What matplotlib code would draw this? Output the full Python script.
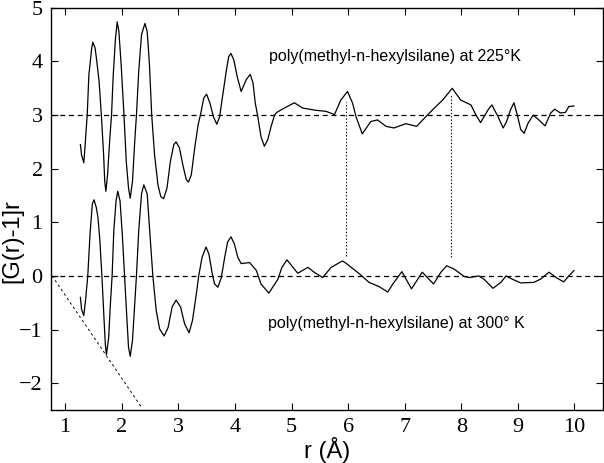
import matplotlib
matplotlib.use("Agg")
import matplotlib.pyplot as plt

# upper curve, 225 K (already shifted by +3)
r_225 = [1.27, 1.29, 1.33, 1.35, 1.39, 1.42, 1.47, 1.49, 1.53, 1.56, 1.60, 1.64, 1.68,
         1.70, 1.72, 1.75, 1.79, 1.82, 1.85, 1.89, 1.92, 1.95, 1.99, 2.04, 2.08, 2.12,
         2.15, 2.19, 2.23, 2.26, 2.30, 2.35, 2.41, 2.45, 2.49, 2.53, 2.58, 2.64, 2.69,
         2.74, 2.80, 2.86, 2.92, 2.96, 3.02, 3.08, 3.14, 3.18, 3.23, 3.29, 3.35, 3.39,
         3.45, 3.50, 3.56, 3.62, 3.68, 3.73, 3.79, 3.85, 3.89, 3.93, 3.98, 4.04, 4.11,
         4.20, 4.27, 4.32, 4.36, 4.40, 4.46, 4.52, 4.58, 4.64, 4.70, 4.74, 4.82, 5.05,
         5.20, 5.43, 5.61, 5.76, 5.87, 5.99, 6.08, 6.14, 6.25, 6.40, 6.52, 6.67, 6.81,
         7.02, 7.21, 7.40, 7.55, 7.67, 7.84, 7.99, 8.17, 8.26, 8.34, 8.48, 8.54, 8.64,
         8.74, 8.80, 8.87, 8.93, 8.99, 9.05, 9.11, 9.18, 9.27, 9.37, 9.48, 9.58, 9.65,
         9.75, 9.84, 9.90, 9.99]
g_225 = [2.45, 2.26, 2.11, 2.39, 3.00, 3.75, 4.25, 4.36, 4.25, 4.00, 3.63, 3.00, 2.26,
         1.76, 1.58, 1.89, 2.57, 3.00, 3.75, 4.43, 4.74, 4.56, 3.94, 3.00, 2.14, 1.64,
         1.45, 1.76, 2.51, 3.00, 3.81, 4.50, 4.71, 4.56, 3.94, 3.00, 2.26, 1.70, 1.48,
         1.44, 1.64, 2.14, 2.45, 2.50, 2.39, 2.07, 1.80, 1.75, 1.89, 2.39, 2.82, 3.00,
         3.32, 3.39, 3.22, 2.97, 2.83, 2.97, 3.41, 3.84, 4.09, 4.15, 4.03, 3.72, 3.44,
         3.66, 3.76, 3.60, 3.22, 3.00, 2.60, 2.42, 2.54, 2.79, 3.00, 3.05, 3.10, 3.23,
         3.13, 3.09, 3.07, 3.01, 3.28, 3.44, 3.22, 2.97, 2.65, 2.88, 2.91, 2.79, 2.76,
         2.84, 2.79, 3.00, 3.16, 3.28, 3.50, 3.28, 3.19, 3.00, 2.86, 3.11, 3.19, 2.99,
         2.76, 2.88, 3.10, 3.23, 3.00, 2.73, 2.66, 2.85, 3.00, 2.91, 2.80, 3.04, 3.11,
         3.04, 3.05, 3.16, 3.17]

# lower curve, 300 K
r_300 = [1.27, 1.29, 1.33, 1.36, 1.40, 1.44, 1.48, 1.51, 1.55, 1.58, 1.61, 1.65, 1.68,
         1.71, 1.73, 1.77, 1.80, 1.83, 1.86, 1.90, 1.93, 1.97, 2.01, 2.05, 2.09, 2.12,
         2.15, 2.19, 2.23, 2.26, 2.30, 2.35, 2.39, 2.45, 2.49, 2.55, 2.61, 2.67, 2.75,
         2.82, 2.89, 2.96, 3.04, 3.11, 3.19, 3.25, 3.31, 3.36, 3.42, 3.49, 3.54, 3.60,
         3.64, 3.70, 3.76, 3.82, 3.87, 3.93, 3.99, 4.05, 4.11, 4.26, 4.38, 4.46, 4.60,
         4.76, 4.83, 4.92, 5.11, 5.29, 5.40, 5.55, 5.70, 5.90, 5.96, 6.20, 6.37, 6.55,
         6.70, 6.79, 6.95, 7.12, 7.31, 7.51, 7.64, 7.74, 7.87, 8.05, 8.14, 8.31, 8.40,
         8.56, 8.70, 8.79, 8.90, 9.05, 9.28, 9.40, 9.55, 9.69, 9.81, 9.90, 9.99]
g_300 = [-0.40, -0.62, -0.74, -0.46, 0.00, 0.78, 1.34, 1.42, 1.28, 1.09, 0.72, 0.00, -0.65,
         -1.27, -1.47, -1.14, -0.52, 0.00, 0.84, 1.40, 1.58, 1.40, 0.78, 0.00, -0.77, -1.33,
         -1.50, -1.20, -0.52, 0.00, 0.84, 1.53, 1.70, 1.53, 0.91, 0.00, -0.65, -0.99, -1.12,
         -0.96, -0.58, -0.45, -0.58, -0.89, -1.06, -0.83, -0.40, 0.00, 0.35, 0.54, 0.41, 0.04,
         -0.15, -0.21, -0.03, 0.35, 0.63, 0.73, 0.60, 0.35, 0.23, 0.25, 0.10, -0.15, -0.32,
         -0.06, 0.16, 0.30, 0.05, 0.16, 0.07, -0.03, 0.16, 0.28, 0.24, 0.04, -0.12, -0.20,
         -0.30, -0.15, 0.08, -0.24, 0.07, -0.15, 0.07, 0.19, 0.13, -0.01, -0.03, 0.00, -0.06,
         -0.23, -0.12, 0.00, -0.06, -0.13, -0.12, -0.06, 0.07, -0.04, -0.11, 0.00, 0.10]

baselines = [0.0, 3.0]
density_line_r = [0.77, 2.35]
density_line_g = [0.0, -2.45]
peak_r = [5.97, 7.81]
peak_lo = [0.38, 0.36]
peak_hi = [3.25, 3.40]

x_ticks = list(range(1, 11))
y_ticks = list(range(-2, 6))

fig = plt.figure(figsize=(6.04, 4.63), dpi=100)
ax = fig.add_axes([0.0844, 0.1145, 0.9136, 0.8685])

for b in baselines:
    ax.axhline(b, color="black", lw=0.9, dashes=(4, 3))
ax.plot(density_line_r, density_line_g, color="black", lw=0.7, dashes=(2.5, 3))
for r, lo, hi in zip(peak_r, peak_lo, peak_hi):
    ax.plot([r, r], [lo, hi], color="black", lw=0.8, linestyle=(0, (1.2, 1.8)))

ax.plot(r_225, g_225, color="black", lw=0.9)
ax.plot(r_300, g_300, color="black", lw=0.9)

ax.text(4.61, 4.09, "poly(methyl-n-hexylsilane) at 225°K", family="Liberation Sans",
        fontsize=11.5, va="center", ha="left")
ax.text(4.58, -0.89, "poly(methyl-n-hexylsilane) at 300° K", family="Liberation Sans",
        fontsize=11.5, va="center", ha="left")

ax.set_xlim(0.75, 10.5)
ax.set_ylim(-2.5, 5)
ax.set_xticks(x_ticks)
ax.set_yticks(y_ticks)
ax.tick_params(direction="in", length=5, width=0.8, top=True, right=True,
               labelsize=16, pad=6)
for lab in ax.get_xticklabels() + ax.get_yticklabels():
    lab.set_family("Liberation Serif")
for s in ax.spines.values():
    s.set_linewidth(1.0)

ax.set_xlabel("r (Å)", family="Liberation Sans", fontsize=17, labelpad=0)
ax.set_ylabel("[G(r)-1]r", family="Liberation Sans", fontsize=17)
ax.yaxis.set_label_coords(-0.05, 0.42)

fig.savefig("out.png", dpi=100)
